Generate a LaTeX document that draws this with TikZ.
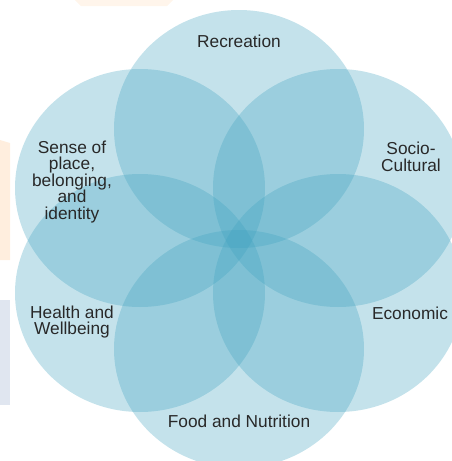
\documentclass[tikz,border=0pt]{standalone}
\usepackage{fontspec}
\setmainfont{Liberation Sans}
\definecolor{petalblue}{RGB}{60,160,190}
\definecolor{labelgray}{RGB}{40,40,40}
\definecolor{peach}{RGB}{255,238,222}
\definecolor{slate}{RGB}{224,230,240}

\begin{document}
\begin{tikzpicture}[
        x=1pt, y=-1pt,
        every node/.style={font=\fontsize{17.3}{16.5}\selectfont, text=labelgray, align=center, inner sep=0pt},
        petal/.style={fill=petalblue, fill opacity=0.3}
    ]
	\useasboundingbox (0,0) rectangle (452,461);
	% faint shapes behind the picture
	\fill[peach!60] (75,0) -- (173,0) -- (167,6) -- (81,6) -- cycle;
	\fill[peach] (0,140) -- (10,143) -- (10,260) -- (0,260) -- cycle;
	\fill[slate] (0,300) rectangle (10,405);
	% the six circles
	\foreach \x/\y in {239/129, 338/188, 338/293, 239/349, 140/293, 140/188}
		{
		   \fill[petal] (\x,\y) ellipse [x radius=125, y radius=119];
		};
	\foreach \n/\x/\y/\t in {recreation/239/41/Recreation, socio/411/157/{Socio-\\Cultural}, economic/410/313/Economic, food/239/421/Food and Nutrition, health/72/322/{Health and\\Wellbeing}, sense/72/182/{Sense of\\place,\\belonging,\\and\\identity}}
		{
		  \node (\n) at (\x,\y) {\t};
		};
\end{tikzpicture}
\end{document}
